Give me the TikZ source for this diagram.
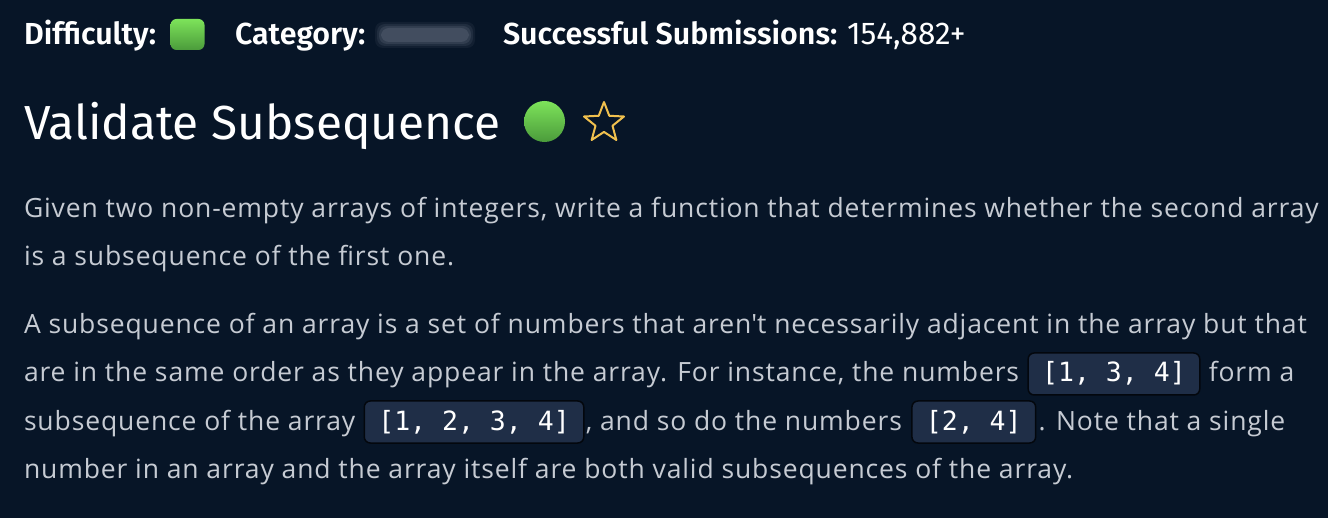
\documentclass[tikz,border=0pt]{standalone}
\usepackage{fontspec}
\setmainfont{Open Sans}[LetterSpace=3.3]
\newfontfamily\hdfont{Fira Sans}
\newfontfamily\hdbold{Fira Sans SemiBold}
\newfontfamily\monofnt{DejaVu Sans Mono}
\usetikzlibrary{shapes.geometric}
\definecolor{bg}{HTML}{071527}
\definecolor{bodytxt}{HTML}{C6CBD3}
\definecolor{codebg}{HTML}{1F2E47}
\definecolor{codeedge}{HTML}{03070D}
\definecolor{greenA}{HTML}{7DE35A}
\definecolor{greenB}{HTML}{4B9B3B}
\definecolor{gold}{HTML}{F0C04E}
\definecolor{blurc}{HTML}{76808F}
\tikzset{
  hdtxt/.style={anchor=base west, text=white, font=\hdbold\fontsize{30.4}{30.4}\selectfont},
  hdval/.style={anchor=base west, text=white, font=\hdfont\fontsize{31.5}{31.5}\selectfont},
  titletxt/.style={anchor=base west, text=white, font=\hdfont\fontsize{47.8}{47.8}\selectfont},
  bodyline/.style={anchor=base west, text=bodytxt, font=\fontsize{26.5}{26.5}\selectfont},
  codebox/.style={anchor=base west, fill=codebg, draw=codeedge, line width=1.5pt,
    rounded corners=6pt, text=white, font=\monofnt\fontsize{26.5}{26.5}\selectfont,
    inner xsep=14pt, inner ysep=8pt, text height=21pt, text depth=5pt},
  greensq/.style={rounded corners=6pt, top color=greenA, bottom color=greenB,
    minimum width=34pt, minimum height=31pt},
}
\begin{document}
\begin{tikzpicture}[x=1pt,y=-1pt, every node/.style={inner sep=0pt, outer sep=0pt}]
\fill[bg] (0,0) rectangle (1328,518);
\useasboundingbox (0,0) rectangle (1328,518);
% header
\node[hdtxt] (diff) at (24,45) {Difficulty:};
\node[greensq] (diffsq) at (187.5,34.5) {};
\node[hdtxt] (cat) at (235,45) {Category:};
\foreach \g/\o in {7/0.10,5/0.15,3/0.2,1/0.25}{
  \fill[blurc, opacity=\o, rounded corners=8pt] (382-\g,29-\g) rectangle (468+\g,41+\g);
}
\node[hdtxt] (succ) at (503,45) {Successful Submissions:};
\node[hdval] (count) at (847,45) {154,882+};
% title
\node[titletxt] (title) at (24,140) {Validate Subsequence};
\shade[top color=greenA, bottom color=greenB] (544.5,121.5) circle (20.5pt);
\node[star, star points=5, star point ratio=2.35, minimum size=42pt, draw=gold,
  line width=2pt, line join=round] (star) at (604,123) {};
% paragraph 1
\node[bodyline] (p1a) at (24,218) {Given two non-empty arrays of integers, write a function that determines whether the second array};
\node[bodyline] (p1b) at (24,266) {is a subsequence of the first one.};
% paragraph 2
\node[bodyline] (p2a) at (24,334) {A subsequence of an array is a set of numbers that aren\textquotesingle t necessarily adjacent in the array but that};
\node[bodyline] (p2b) at (24,382) {are in the same order as they appear in the array. For instance, the numbers};
\node[codebox] (c1) at ([xshift=9pt]p2b.base east) {[1, 3, 4]};
\node[bodyline] (p2b2) at ([xshift=9pt]c1.base east) {form a};
\node[bodyline] (p2c) at (24,430) {subsequence of the array};
\node[codebox] (c2) at ([xshift=9pt]p2c.base east) {[1, 2, 3, 4]};
\node[bodyline] (p2c2) at ([xshift=2pt]c2.base east) {, and so do the numbers};
\node[codebox] (c3) at ([xshift=10pt]p2c2.base east) {[2, 4]};
\node[bodyline] (p2c3) at ([xshift=3pt]c3.base east) {. Note that a single};
\node[bodyline] (p2d) at (24,478) {number in an array and the array itself are both valid subsequences of the array.};
\end{tikzpicture}
\end{document}
